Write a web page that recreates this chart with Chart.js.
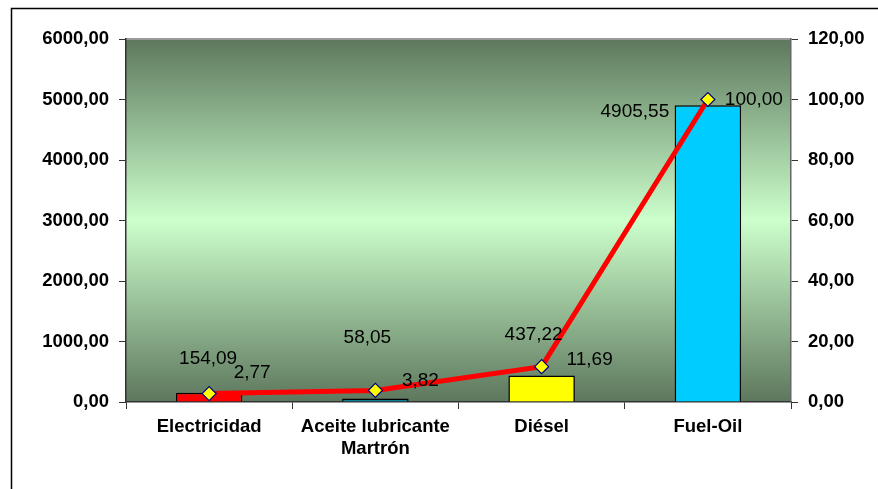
<!DOCTYPE html>
<html>
<head>
<meta charset="utf-8">
<script src="https://cdn.jsdelivr.net/npm/chart.js@4/dist/chart.umd.min.js"></script>
<style>
html,body{margin:0;padding:0;background:#fff;}
#wrap{width:878px;height:489px;position:relative;}
</style>
</head>
<body>
<div id="wrap"><canvas id="c" width="878" height="489"></canvas></div>
<script>
// ---- data ----
const categories = [["Electricidad"], ["Aceite lubricante", "Martrón"], ["Diésel"], ["Fuel-Oil"]];
const costValues = [154.09, 58.05, 437.22, 4905.55];
const cumulativePct = [2.77, 3.82, 11.69, 100.00];
const leftTicks = [0, 1000, 2000, 3000, 4000, 5000, 6000];
const rightTicks = [0, 20, 40, 60, 80, 100, 120];

// ---- styles ----
const barColors = ['#ff0000', '#0a7f96', '#ffff00', '#00ccff'];
const barLabelOffsets = [[-1, -34], [-8, -61], [-8, -41], [-73, 7]];
const lineLabelOffsets = [[43, -21], [45, -10], [48, -7], [46, 0]];

function fmt(v) { return v.toFixed(2).replace('.', ','); }

const bgPlugin = {
  id: 'bg',
  beforeDraw(chart) {
    const ctx = chart.ctx, a = chart.chartArea;
    ctx.save();
    ctx.fillStyle = '#fff';
    ctx.fillRect(0, 0, chart.width, chart.height);
    // outer frame
    ctx.strokeStyle = '#000';
    ctx.lineWidth = 1.5;
    ctx.beginPath();
    ctx.moveTo(11.5, chart.height + 2);
    ctx.lineTo(11.5, 8.5);
    ctx.lineTo(chart.width + 2, 8.5);
    ctx.stroke();
    const g = ctx.createLinearGradient(0, a.top, 0, a.bottom);
    g.addColorStop(0, '#5d785d');
    g.addColorStop(0.5, '#ccffcc');
    g.addColorStop(1, '#5d775d');
    ctx.fillStyle = g;
    ctx.fillRect(a.left, a.top, a.right - a.left, a.bottom - a.top);
    ctx.strokeStyle = '#9a9a9a';
    ctx.lineWidth = 2;
    ctx.beginPath();
    ctx.moveTo(a.left, a.top);
    ctx.lineTo(a.right, a.top);
    ctx.stroke();
    ctx.restore();
  }
};

const labelPlugin = {
  id: 'labels',
  afterDatasetsDraw(chart) {
    const ctx = chart.ctx;
    ctx.save();
    ctx.font = '19px "Liberation Sans", Arial, sans-serif';
    ctx.fillStyle = '#000';
    ctx.textAlign = 'center';
    ctx.textBaseline = 'middle';
    const barMeta = chart.getDatasetMeta(1);
    barMeta.data.forEach((el, i) => {
      const o = barLabelOffsets[i];
      ctx.fillText(fmt(costValues[i]), el.x + o[0], el.y + o[1]);
    });
    const lineMeta = chart.getDatasetMeta(0);
    lineMeta.data.forEach((el, i) => {
      const o = lineLabelOffsets[i];
      ctx.fillText(fmt(cumulativePct[i]), el.x + o[0], el.y + o[1]);
    });
    ctx.restore();
  }
};

const tickFont = { family: '"Liberation Sans", Arial, sans-serif', size: 18.5, weight: 'bold' };

new Chart(document.getElementById('c'), {
  type: 'bar',
  data: {
    labels: categories,
    datasets: [
      {
        type: 'line',
        data: cumulativePct,
        yAxisID: 'y2',
        borderColor: '#ff0000',
        borderWidth: 5,
        tension: 0,
        pointStyle: 'rectRot',
        pointRadius: 7,
        pointBackgroundColor: '#ffff00',
        pointBorderColor: '#000080',
        pointBorderWidth: 1.2,
        order: 0
      },
      {
        type: 'bar',
        data: costValues,
        yAxisID: 'y',
        backgroundColor: barColors,
        borderColor: '#000',
        borderWidth: 1.5,
        barPercentage: 0.4,
        categoryPercentage: 1,
        order: 1
      }
    ]
  },
  options: {
    responsive: false,
    animation: false,
    layout: { padding: { top: 39, left: 0, right: 0, bottom: 0 } },
    plugins: { legend: { display: false }, tooltip: { enabled: false } },
    scales: {
      x: {
        grid: { drawOnChartArea: false, color: '#333', tickLength: 7, tickWidth: 1 },
        border: { color: '#333', width: 1.5 },
        ticks: { color: '#000', font: tickFont, padding: 7, maxRotation: 0 },
        afterFit(s) { s.height = 87; }
      },
      y: {
        position: 'left',
        min: 0, max: 6000,
        afterBuildTicks(s) { s.ticks = leftTicks.map(v => ({ value: v })); },
        grid: { drawOnChartArea: false, color: '#333', tickLength: 7 },
        border: { color: '#333', width: 1.5 },
        ticks: { color: '#000', font: tickFont, padding: 10, callback: v => fmt(v) },
        afterFit(s) { s.width = 126; }
      },
      y2: {
        position: 'right',
        min: 0, max: 120,
        afterBuildTicks(s) { s.ticks = rightTicks.map(v => ({ value: v })); },
        grid: { drawOnChartArea: false, color: '#333', tickLength: 7 },
        border: { color: '#666', width: 1.5 },
        ticks: { color: '#000', font: tickFont, padding: 10, callback: v => fmt(v) },
        afterFit(s) { s.width = 87; }
      }
    }
  },
  plugins: [bgPlugin, labelPlugin]
});
</script>
</body>
</html>
